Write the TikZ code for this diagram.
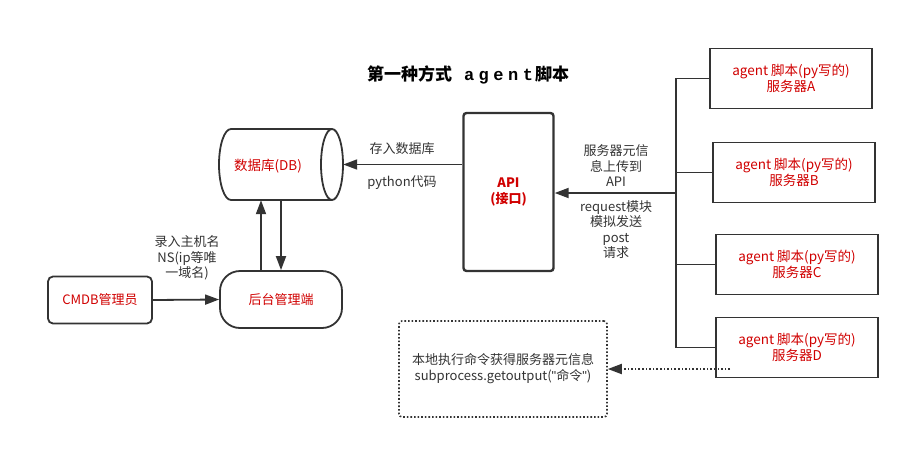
\documentclass[tikz,border=0pt]{standalone}
\usepackage{fontspec}
\setmainfont{Noto Sans CJK SC}
\newfontfamily\monof{Liberation Mono}
\newfontfamily\qfont{Liberation Sans}
\usetikzlibrary{arrows.meta}
\definecolor{ink}{HTML}{333333}
\definecolor{redt}{HTML}{D00000}
\newcommand{\dq}{{\qfont\symbol{34}}}
\begin{document}
\begin{tikzpicture}[x=1pt,y=-1pt,
  lbl/.style={text=ink, font=\fontsize{13}{15.5}\selectfont, align=center, inner sep=0pt},
  rtxt/.style={text=redt, font=\fontsize{13.5}{16}\selectfont, align=center},
  box/.style={draw=ink, line width=1.8pt},
  arr/.style={draw=ink, line width=1.8pt, -{Triangle[length=14pt,width=10pt]}},
  bus/.style={draw=ink, line width=1.6pt},
  dots/.style={dash pattern=on 1.6pt off 2pt}]
\useasboundingbox (0,0) rectangle (909,450);
% title
\node[text=black, font=\fontsize{17}{19}\selectfont\bfseries] (title) at (468,75) {第一种方式\hspace{12pt}{\monof\bfseries\fontsize{17}{19}\selectfont a\hspace{4.5pt}g\hspace{4.5pt}e\hspace{4.5pt}n\hspace{4.5pt}t}\hspace{2pt}脚本};
% database cylinder
\node[minimum width=124pt, minimum height=71pt, inner sep=0pt] (db) at (281,164.5) {};
\draw[box] (332,129) -- (231,129) arc[start angle=-90, end angle=-270, x radius=12, y radius=35.5] -- (332,200);
\draw[box] (332,164.5) ellipse[x radius=11, y radius=35.5];
\node[rtxt] (dbtext) at (268,166) {数据库(DB)};
% API
\node[box, line width=2.4pt, rounded corners=3pt, minimum width=90pt, minimum height=158pt, rtxt, font=\fontsize{13}{16}\selectfont\bfseries] (api) at (508.5,192) {API\\(接口)};
% servers
\node[box, minimum width=162pt, minimum height=60pt, rtxt] (sA) at (791,78.5) {agent 脚本(py写的)\\服务器A};
\node[box, minimum width=162pt, minimum height=60pt, rtxt] (sB) at (794,172.5) {agent 脚本(py写的)\\服务器B};
\node[box, minimum width=162pt, minimum height=60pt, rtxt] (sC) at (797,264.5) {agent 脚本(py写的)\\服务器C};
\node[box, minimum width=162pt, minimum height=60pt, rtxt] (sD) at (797,347.5) {agent 脚本(py写的)\\服务器D};
% CMDB and backend
\node[box, rounded corners=5pt, minimum width=104pt, minimum height=47pt, rtxt, font=\fontsize{13}{16}\selectfont] (cmdb) at (100,300) {CMDB管理员};
\node[box, rounded corners=20pt, minimum width=122pt, minimum height=57pt, rtxt, font=\fontsize{13}{16}\selectfont] (back) at (281,299.5) {后台管理端};
% local command box
\node[draw=ink, line width=1.6pt, dots, rounded corners=3pt, minimum width=208pt, minimum height=96pt, text=ink, font=\fontsize{13}{16}\selectfont, align=center] (loc) at (503,369) {本地执行命令获得服务器元信息\\subprocess.getoutput(\dq 命令\dq)};
% connectors
\coordinate (bus) at (676,193);
\coordinate (dstart) at (730,369);
\draw[bus] (sA.west) -- (sA.west -| bus) -- (sD.west -| bus) -- (sD.west);
\draw[bus] (sB.west) -- (sB.west -| bus);
\draw[bus] (sC.west) -- (sC.west -| bus);
\draw[arr] (bus) -- (bus -| api.east);
\draw[arr] (db.east -| api.west) -- (db.east);
\draw[arr] (cmdb.east) -- (back.west);
\draw[arr] ([xshift=-20pt]back.north) -- ([xshift=-20pt]db.south);
\draw[arr] (db.south) -- (back.north);
\draw[arr, dots] (dstart) -- (loc.east);
% labels
\node[lbl] (l1) at (402,149) {存入数据库};
\node[lbl] (l2) at (402,183) {python代码};
\node[lbl] (l3) at (616,166) {服务器元信\\息上传到\\API};
\node[lbl] (l4) at (616,229.5) {request模块\\模拟发送\\post\\请求};
\node[lbl] (l5) at (187,258) {录入主机名\\NS(ip等唯\\一域名)};
\end{tikzpicture}
\end{document}
